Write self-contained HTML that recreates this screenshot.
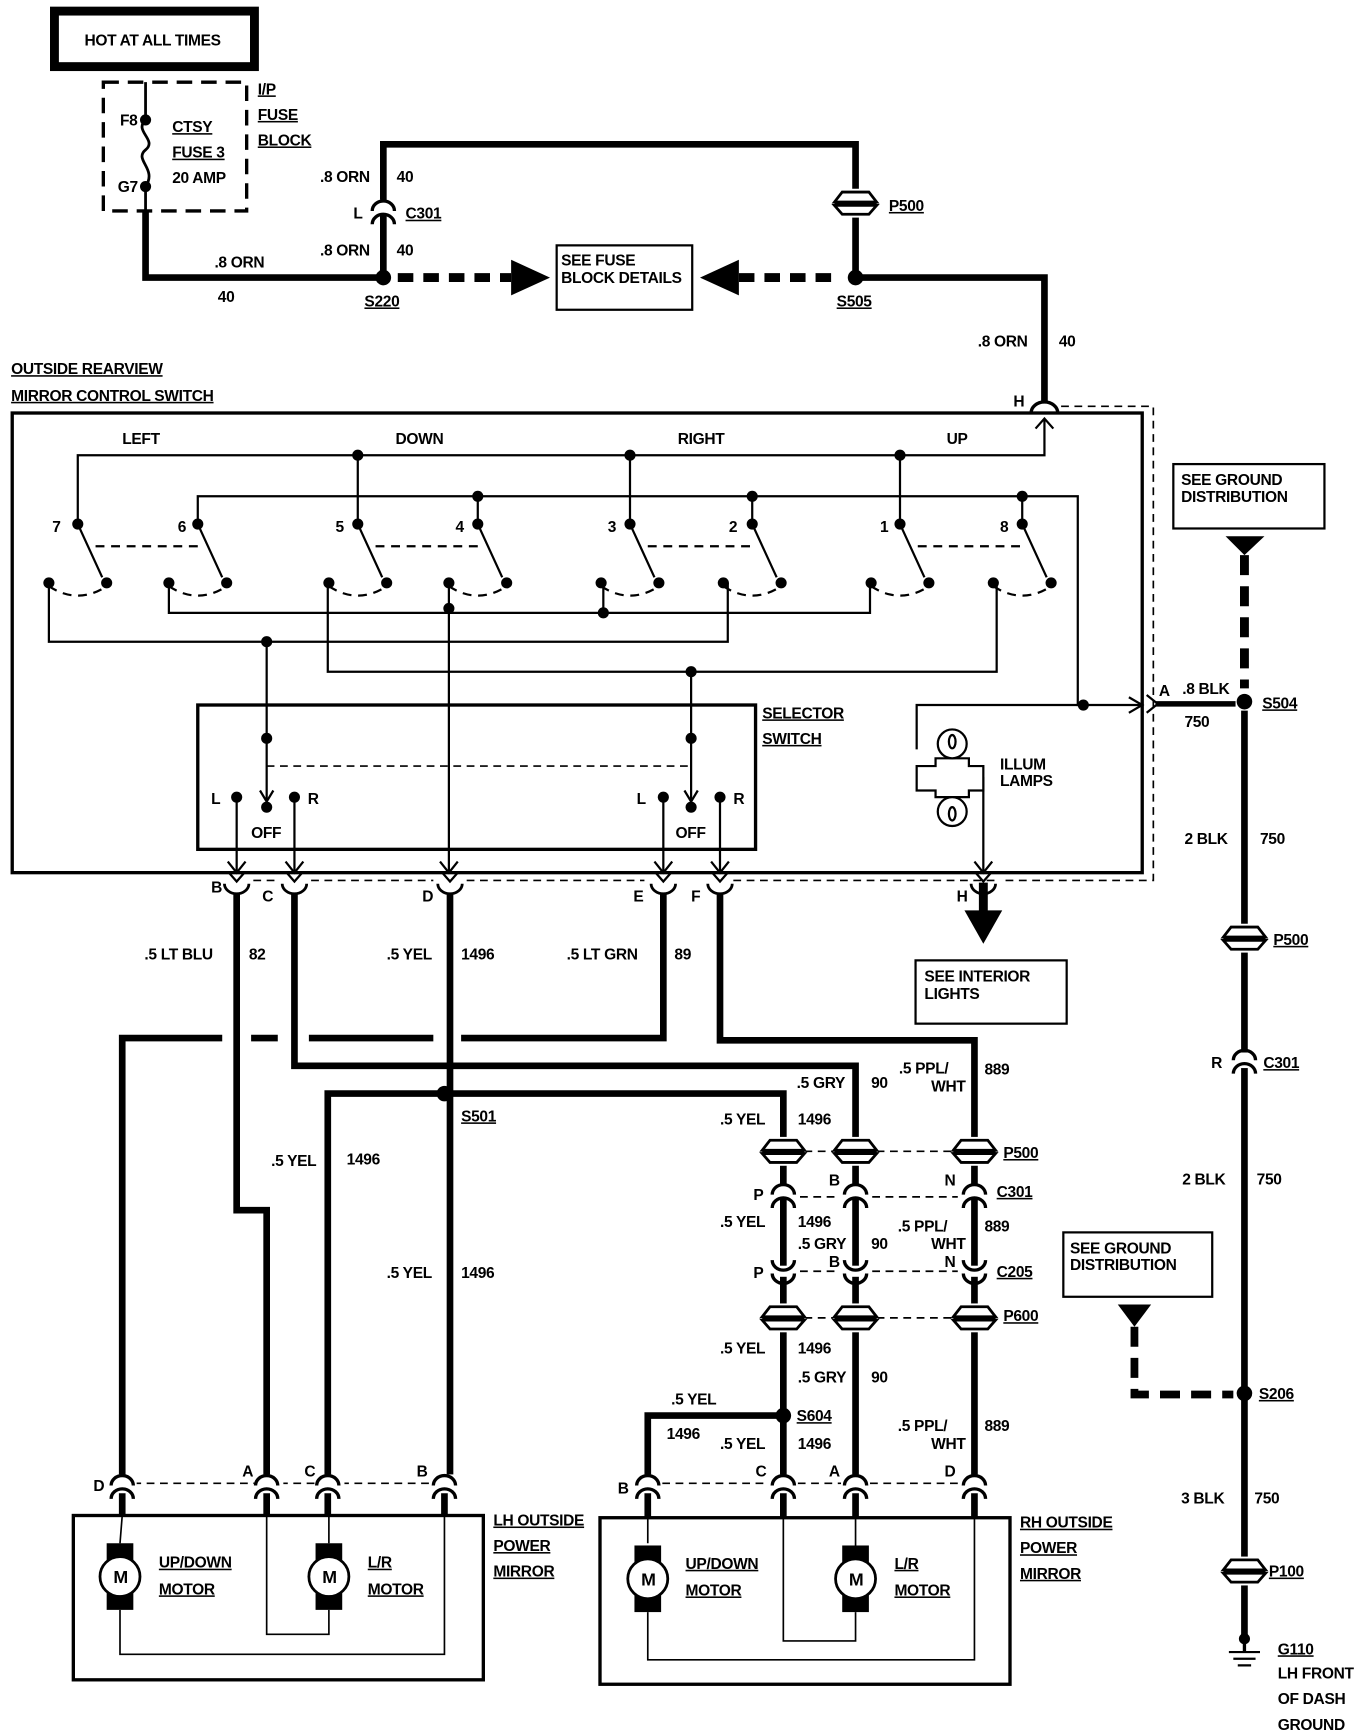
<!DOCTYPE html>
<html><head><meta charset="utf-8"><style>
html,body{margin:0;padding:0;background:#fff}
svg{display:block}
text{font-family:"Liberation Sans Narrow","Liberation Sans",sans-serif;font-weight:bold;font-size:14px;fill:#000;letter-spacing:-0.3px}
.u{text-decoration:underline}
</style></head><body>
<svg width="1360" height="1732" viewBox="0 0 1224 1560" preserveAspectRatio="none" xmlns="http://www.w3.org/2000/svg">
<defs>
<g id="pill"><path d="M-12,-10 L12,-10 L19,-1 L-19,-1 Z M-19,2 L19,2 L12,10 L-12,10 Z" fill="#fff" stroke="#000" stroke-width="2.5"/><line x1="-19" y1="0.5" x2="19" y2="0.5" stroke="#000" stroke-width="2"/></g>
<g id="cn"><path d="M-10,-2 A10,9 0 0 1 10,-2" fill="none" stroke="#000" stroke-width="3"/><path d="M-10,10 A10,9 0 0 1 10,10" fill="none" stroke="#000" stroke-width="3"/></g>
<g id="cu"><path d="M-10,-10 A10,9 0 0 0 10,-10" fill="none" stroke="#000" stroke-width="3"/><path d="M-10,2 A10,9 0 0 0 10,2" fill="none" stroke="#000" stroke-width="3"/></g>
<g id="bot"><path d="M-11,-4 A11,9 0 0 0 11,-4" fill="none" stroke="#000" stroke-width="2.5"/><path d="M-7,-14 L0,-6 L7,-14" fill="none" stroke="#000" stroke-width="2"/></g>
<g id="motor"><rect x="-12" y="-30" width="24" height="60" fill="#000"/><circle r="18" fill="#fff" stroke="#000" stroke-width="2.5"/><text x="-6" y="6" style="font-size:16px">M</text></g>
</defs>

<rect x="49" y="10" width="180" height="50" fill="none" stroke="#000" stroke-width="8"/>
<text x="76" y="41">HOT AT ALL TIMES</text>
<rect x="93" y="74" width="129" height="116" fill="none" stroke="#000" stroke-width="3" stroke-dasharray="14,8"/>
<path d="M131,74 V108 C120,118 142,126 131,135 C120,144 142,152 131,168 V190" fill="none" stroke="#000" stroke-width="2.5"/>
<circle cx="131" cy="108" r="5"/><circle cx="131" cy="168" r="5"/>
<text x="108" y="113">F8</text><text x="106" y="173">G7</text>
<text x="155" y="119" class="u">CTSY</text><text x="155" y="142" class="u">FUSE 3</text><text x="155" y="165">20 AMP</text>
<text x="232" y="85" class="u">I/P</text><text x="232" y="108" class="u">FUSE</text><text x="232" y="131" class="u">BLOCK</text>

<path d="M131,190 V250 H345" fill="none" stroke="#000" stroke-width="6"/>
<text x="193" y="241">.8 ORN</text><text x="196" y="272">40</text>
<path d="M345,245 V130 H770 V250 H940 V362" fill="none" stroke="#000" stroke-width="6"/>
<rect x="337" y="180" width="16" height="14" fill="#fff"/>
<use href="#cn" x="345" y="192"/>
<circle cx="345" cy="250" r="7"/>
<text x="288" y="164">.8 ORN</text><text x="357" y="164">40</text>
<text x="318" y="197">L</text><text x="365" y="197" class="u">C301</text>
<text x="288" y="230">.8 ORN</text><text x="357" y="230">40</text>
<text x="328" y="276" class="u">S220</text>
<rect x="750" y="170" width="40" height="26" fill="#fff"/>
<use href="#pill" x="770" y="183"/>
<text x="800" y="190" class="u">P500</text>
<circle cx="770" cy="250" r="7"/>
<text x="753" y="276" class="u">S505</text>
<path d="M358,250 H460" stroke="#000" stroke-width="8" stroke-dasharray="14,9"/>
<path d="M460,234 L495,250 L460,266 Z"/>
<path d="M665,250 H757" stroke="#000" stroke-width="8" stroke-dasharray="14,9"/>
<path d="M665,234 L630,250 L665,266 Z"/>
<rect x="501" y="221" width="122" height="58" fill="none" stroke="#000" stroke-width="2"/>
<text x="505" y="239">SEE FUSE</text><text x="505" y="255">BLOCK DETAILS</text>
<text x="880" y="312">.8 ORN</text><text x="953" y="312">40</text>

<text x="10" y="337" class="u">OUTSIDE REARVIEW</text>
<text x="10" y="361" class="u">MIRROR CONTROL SWITCH</text>
<rect x="11" y="372" width="1017" height="414" fill="none" stroke="#000" stroke-width="3"/>
<path d="M955,366 H1038 V793 H900" fill="none" stroke="#000" stroke-width="1.5" stroke-dasharray="7,5"/>
<path d="M660,793 H900 M420,793 H580 M280,793 H390 M228,793 H250" stroke="#000" stroke-width="1.5" stroke-dasharray="7,5"/>
<path d="M928,372 A12,10 0 0 1 952,372" fill="none" stroke="#000" stroke-width="3"/>
<text x="912" y="366">H</text>

<text x="110" y="400">LEFT</text><text x="356" y="400">DOWN</text><text x="610" y="400">RIGHT</text><text x="852" y="400">UP</text>
<g stroke="#000" stroke-width="2" fill="none">
<path d="M70,472 V410 H940 V378"/>
<path d="M932,386 L940,377 L948,386"/>
<path d="M178,472 V447 H970 V635 H1028"/>
<path d="M1016,628 L1028,635 L1016,642"/>
<path d="M322,410 V472 M567,410 V472 M810,410 V472"/>
<path d="M430,447 V472 M677,447 V472 M920,447 V472"/>
<path d="M70,472 L92,520 M178,472 L200,520 M322,472 L344,520 M430,472 L452,520 M567,472 L589,520 M677,472 L699,520 M810,472 L832,520 M920,472 L942,520"/>
<path d="M86,492 H178 M338,492 H430 M583,492 H677 M826,492 H920" stroke-dasharray="8,6"/>
<path d="M44,528 Q70,545 96,528 M152,528 Q178,545 204,528 M296,528 Q322,545 348,528 M404,528 Q430,545 456,528 M541,528 Q567,545 593,528 M651,528 Q677,545 703,528 M784,528 Q810,545 836,528 M894,528 Q920,545 946,528" stroke-dasharray="8,6"/>
<path d="M44,525 V578 H655 V525"/>
<path d="M152,525 V552 H783 V525"/>
<path d="M543,525 V552"/>
<path d="M295,525 V605 H897 V525"/>
<path d="M404,525 V785"/>
<path d="M240,578 V722 M622,605 V722"/>
<path d="M213,722 V785 M265,722 V785 M597,722 V785 M648,722 V785 M885,700 V785"/>
<path d="M975,635 H825 V675"/>
</g>
<g fill="#000">
<circle cx="322" cy="410" r="5"/><circle cx="567" cy="410" r="5"/><circle cx="810" cy="410" r="5"/>
<circle cx="430" cy="447" r="5"/><circle cx="677" cy="447" r="5"/><circle cx="920" cy="447" r="5"/>
<circle cx="70" cy="472" r="5"/><circle cx="178" cy="472" r="5"/><circle cx="322" cy="472" r="5"/><circle cx="430" cy="472" r="5"/><circle cx="567" cy="472" r="5"/><circle cx="677" cy="472" r="5"/><circle cx="810" cy="472" r="5"/><circle cx="920" cy="472" r="5"/>
<circle cx="44" cy="525" r="5"/><circle cx="96" cy="525" r="5"/><circle cx="152" cy="525" r="5"/><circle cx="204" cy="525" r="5"/><circle cx="296" cy="525" r="5"/><circle cx="348" cy="525" r="5"/><circle cx="404" cy="525" r="5"/><circle cx="456" cy="525" r="5"/><circle cx="541" cy="525" r="5"/><circle cx="593" cy="525" r="5"/><circle cx="651" cy="525" r="5"/><circle cx="703" cy="525" r="5"/><circle cx="784" cy="525" r="5"/><circle cx="836" cy="525" r="5"/><circle cx="894" cy="525" r="5"/><circle cx="946" cy="525" r="5"/>
<circle cx="543" cy="552" r="5"/><circle cx="404" cy="548" r="5"/><circle cx="240" cy="578" r="5"/><circle cx="622" cy="605" r="5"/><circle cx="975" cy="635" r="5"/>
<circle cx="240" cy="665" r="5"/><circle cx="622" cy="665" r="5"/>
<circle cx="213" cy="718" r="5"/><circle cx="240" cy="727" r="5"/><circle cx="265" cy="718" r="5"/>
<circle cx="597" cy="718" r="5"/><circle cx="622" cy="727" r="5"/><circle cx="648" cy="718" r="5"/>
</g>
<text x="47" y="479">7</text><text x="160" y="479">6</text><text x="302" y="479">5</text><text x="410" y="479">4</text><text x="547" y="479">3</text><text x="656" y="479">2</text><text x="792" y="479">1</text><text x="900" y="479">8</text>

<rect x="178" y="635" width="502" height="130" fill="none" stroke="#000" stroke-width="3"/>
<path d="M240,690 H622" stroke="#000" stroke-width="1.5" stroke-dasharray="7,5"/>
<text x="686" y="647" class="u">SELECTOR</text><text x="686" y="670" class="u">SWITCH</text>
<text x="190" y="724">L</text><text x="277" y="724">R</text><text x="226" y="755">OFF</text>
<text x="573" y="724">L</text><text x="660" y="724">R</text><text x="608" y="755">OFF</text>
<g stroke="#000" stroke-width="2" fill="none">
<path d="M205,776 L213,786 L221,776 M257,776 L265,786 L273,776 M396,776 L404,786 L412,776 M589,776 L597,786 L605,776 M640,776 L648,786 L656,776 M877,776 L885,786 L893,776"/>
<path d="M234,712 L240,722 L246,712 M616,712 L622,722 L628,712"/>
</g>
<g stroke="#000" stroke-width="2" fill="#fff">
<path d="M825,690 H842 V683 H872 V690 H885 V712 H872 V718 H842 V712 H825 Z"/>
<circle cx="857" cy="670" r="13"/><circle cx="857" cy="731" r="13"/>
<ellipse cx="857" cy="668" rx="3" ry="6"/><ellipse cx="857" cy="733" rx="3" ry="6"/>
</g>
<text x="900" y="693">ILLUM</text><text x="900" y="708">LAMPS</text>

<use href="#bot" x="213" y="800"/><use href="#bot" x="265" y="800"/><use href="#bot" x="405" y="800"/><use href="#bot" x="597" y="800"/><use href="#bot" x="648" y="800"/><use href="#bot" x="885" y="800"/>
<text x="190" y="804">B</text><text x="236" y="812">C</text><text x="380" y="812">D</text><text x="570" y="812">E</text><text x="622" y="812">F</text><text x="861" y="812">H</text>
<path d="M885,795 V822" stroke="#000" stroke-width="8"/>
<path d="M868,820 L902,820 L885,850 Z"/>
<rect x="824" y="865" width="136" height="57" fill="none" stroke="#000" stroke-width="2"/>
<text x="832" y="884">SEE INTERIOR</text><text x="832" y="900">LIGHTS</text>

<g fill="none" stroke="#000" stroke-width="6">
<path d="M213,804 V1090 H240 V1340"/>
<path d="M265,804 V960 H770 V1340"/>
<path d="M405,804 V1340"/>
<path d="M295,1340 V985 H705 V1340"/>
<path d="M705,1275 H583 V1340"/>
<path d="M648,804 V937 H877 V1340"/>
<path d="M597,804 V935 H415 M390,935 H278 M250,935 H226 M200,935 H110 V1340"/>
</g>
<circle cx="400" cy="985" r="7"/><circle cx="705" cy="1275" r="7"/>
<text x="415" y="1010" class="u">S501</text><text x="717" y="1280" class="u">S604</text>
<text x="130" y="864">.5 LT BLU</text><text x="224" y="864">82</text>
<text x="348" y="864">.5 YEL</text><text x="415" y="864">1496</text>
<text x="510" y="864">.5 LT GRN</text><text x="607" y="864">89</text>
<text x="244" y="1050">.5 YEL</text><text x="312" y="1049">1496</text>
<text x="348" y="1151">.5 YEL</text><text x="415" y="1151">1496</text>
<text x="717" y="980">.5 GRY</text><text x="784" y="980">90</text>
<text x="809" y="967">.5 PPL/</text><text x="838" y="983">WHT</text><text x="886" y="968">889</text>
<text x="648" y="1013">.5 YEL</text><text x="718" y="1013">1496</text>
<text x="648" y="1105">.5 YEL</text><text x="718" y="1105">1496</text>
<text x="718" y="1125">.5 GRY</text><text x="784" y="1125">90</text>
<text x="808" y="1109">.5 PPL/</text><text x="838" y="1125">WHT</text><text x="886" y="1109">889</text>
<text x="648" y="1219">.5 YEL</text><text x="718" y="1219">1496</text>
<text x="718" y="1245">.5 GRY</text><text x="784" y="1245">90</text>
<text x="808" y="1289">.5 PPL/</text><text x="838" y="1305">WHT</text><text x="886" y="1289">889</text>
<text x="604" y="1265">.5 YEL</text><text x="600" y="1296">1496</text>
<text x="648" y="1305">.5 YEL</text><text x="718" y="1305">1496</text>

<g>
<path d="M724,1037 H751 M789,1037 H858 M724,1187 H751 M789,1187 H858" stroke="#000" stroke-width="1.5" stroke-dasharray="7,5"/>
<path d="M720,1078 H755 M785,1078 H862 M720,1145 H755 M785,1145 H862" stroke="#000" stroke-width="1.5" stroke-dasharray="7,5"/>
<g fill="#fff"><rect x="685" y="1024" width="40" height="26"/><rect x="750" y="1024" width="40" height="26"/><rect x="857" y="1024" width="40" height="26"/></g>
<use href="#pill" x="705" y="1037"/><use href="#pill" x="770" y="1037"/><use href="#pill" x="877" y="1037"/>
<g fill="#fff"><rect x="692" y="1068" width="26" height="12"/><rect x="757" y="1068" width="26" height="12"/><rect x="864" y="1068" width="26" height="12"/></g>
<use href="#cn" x="705" y="1078"/><use href="#cn" x="770" y="1078"/><use href="#cn" x="877" y="1078"/>
<g fill="#fff"><rect x="692" y="1140" width="26" height="10"/><rect x="757" y="1140" width="26" height="10"/><rect x="864" y="1140" width="26" height="10"/></g>
<use href="#cu" x="705" y="1145"/><use href="#cu" x="770" y="1145"/><use href="#cu" x="877" y="1145"/>
<g fill="#fff"><rect x="685" y="1174" width="40" height="26"/><rect x="750" y="1174" width="40" height="26"/><rect x="857" y="1174" width="40" height="26"/></g>
<use href="#pill" x="705" y="1187"/><use href="#pill" x="770" y="1187"/><use href="#pill" x="877" y="1187"/>
</g>
<text x="903" y="1043" class="u">P500</text><text x="897" y="1078" class="u">C301</text><text x="897" y="1150" class="u">C205</text><text x="903" y="1190" class="u">P600</text>
<text x="678" y="1081">P</text><text x="746" y="1068">B</text><text x="850" y="1068">N</text>
<text x="678" y="1151">P</text><text x="746" y="1141">B</text><text x="850" y="1141">N</text>

<path d="M120,1336 H230 M252,1336 H285 M307,1336 H390 M596,1336 H692 M718,1336 H757 M783,1336 H864" stroke="#000" stroke-width="1.5" stroke-dasharray="7,5"/>
<g fill="#fff"><rect x="97" y="1328" width="26" height="14"/><rect x="229" y="1328" width="26" height="14"/><rect x="284" y="1328" width="26" height="14"/><rect x="389" y="1328" width="26" height="14"/>
<rect x="570" y="1328" width="26" height="14"/><rect x="692" y="1328" width="26" height="14"/><rect x="757" y="1328" width="26" height="14"/><rect x="864" y="1328" width="26" height="14"/></g>
<use href="#cn" x="110" y="1340"/><use href="#cn" x="240" y="1340"/><use href="#cn" x="295" y="1340"/><use href="#cn" x="400" y="1340"/>
<use href="#cn" x="583" y="1340"/><use href="#cn" x="705" y="1340"/><use href="#cn" x="770" y="1340"/><use href="#cn" x="877" y="1340"/>
<g stroke="#000" stroke-width="6"><path d="M110,1345 V1365 M240,1345 V1365 M295,1345 V1365 M400,1345 V1365 M583,1345 V1367 M705,1345 V1367 M770,1345 V1367 M877,1345 V1367"/></g>
<text x="84" y="1343">D</text><text x="218" y="1330">A</text><text x="274" y="1330">C</text><text x="375" y="1330">B</text>
<text x="556" y="1345">B</text><text x="680" y="1330">C</text><text x="746" y="1330">A</text><text x="850" y="1330">D</text>

<rect x="66" y="1365" width="369" height="148" fill="none" stroke="#000" stroke-width="3"/>
<g fill="none" stroke="#000" stroke-width="1.5">
<path d="M110,1365 L108,1390 M108,1450 V1490 H400 V1365 M240,1365 V1472 H296 V1450 M296,1365 V1390"/>
</g>
<use href="#motor" x="108" y="1420"/><use href="#motor" x="296" y="1420"/>
<text x="143" y="1412" class="u">UP/DOWN</text><text x="143" y="1436" class="u">MOTOR</text>
<text x="331" y="1412" class="u">L/R</text><text x="331" y="1436" class="u">MOTOR</text>
<text x="444" y="1374" class="u">LH OUTSIDE</text><text x="444" y="1397" class="u">POWER</text><text x="444" y="1420" class="u">MIRROR</text>

<rect x="540" y="1367" width="369" height="150" fill="none" stroke="#000" stroke-width="3"/>
<g fill="none" stroke="#000" stroke-width="1.5">
<path d="M583,1367 V1390 M583,1452 V1495 H877 V1367 M705,1367 V1478 H770 V1452 M770,1367 V1392"/>
</g>
<use href="#motor" x="583" y="1422"/><use href="#motor" x="770" y="1422"/>
<text x="617" y="1413" class="u">UP/DOWN</text><text x="617" y="1437" class="u">MOTOR</text>
<text x="805" y="1413" class="u">L/R</text><text x="805" y="1437" class="u">MOTOR</text>
<text x="918" y="1376" class="u">RH OUTSIDE</text><text x="918" y="1399" class="u">POWER</text><text x="918" y="1422" class="u">MIRROR</text>

<rect x="1056" y="418" width="136" height="58" fill="none" stroke="#000" stroke-width="2"/>
<text x="1063" y="437">SEE GROUND</text><text x="1063" y="452">DISTRIBUTION</text>
<path d="M1103,483 L1138,483 L1120,500 Z"/>
<path d="M1120,500 V620" stroke="#000" stroke-width="8" stroke-dasharray="18,10"/>
<path d="M1040,634 H1112" stroke="#000" stroke-width="5"/>
<path d="M1032,626 L1042,634 L1032,642" fill="none" stroke="#000" stroke-width="2"/>
<text x="1043" y="627">A</text><text x="1064" y="625">.8 BLK</text><text x="1066" y="655">750</text>
<circle cx="1120" cy="632" r="7"/>
<text x="1136" y="638" class="u">S504</text>
<path d="M1120,640 V1478" stroke="#000" stroke-width="6"/>
<text x="1066" y="760">2 BLK</text><text x="1134" y="760">750</text>
<rect x="1100" y="832" width="40" height="26" fill="#fff"/>
<use href="#pill" x="1120" y="845"/>
<text x="1146" y="851" class="u">P500</text>
<rect x="1108" y="948" width="24" height="14" fill="#fff"/>
<use href="#cn" x="1120" y="957"/>
<text x="1090" y="962">R</text><text x="1137" y="962" class="u">C301</text>
<text x="1064" y="1067">2 BLK</text><text x="1131" y="1067">750</text>
<rect x="957" y="1110" width="134" height="58" fill="none" stroke="#000" stroke-width="2"/>
<text x="963" y="1129">SEE GROUND</text><text x="963" y="1144">DISTRIBUTION</text>
<path d="M1006,1175 L1036,1175 L1021,1195 Z"/>
<path d="M1021,1195 V1256 H1110" stroke="#000" stroke-width="7" stroke-dasharray="18,10" fill="none"/>
<circle cx="1120" cy="1255" r="7"/>
<text x="1133" y="1260" class="u">S206</text>
<text x="1063" y="1354">3 BLK</text><text x="1129" y="1354">750</text>
<rect x="1100" y="1402" width="40" height="26" fill="#fff"/>
<use href="#pill" x="1120" y="1415"/>
<text x="1142" y="1420" class="u">P100</text>
<g stroke="#000" stroke-width="2"><path d="M1106,1488 H1134 M1110,1494 H1130 M1114,1500 H1126"/></g>
<path d="M1120,1478 V1488" stroke="#000" stroke-width="3"/>
<circle cx="1120" cy="1476" r="5"/>
<text x="1150" y="1490" class="u">G110</text><text x="1150" y="1512">LH FRONT</text><text x="1150" y="1535">OF DASH</text><text x="1150" y="1558">GROUND</text>
</svg>
</body></html>
